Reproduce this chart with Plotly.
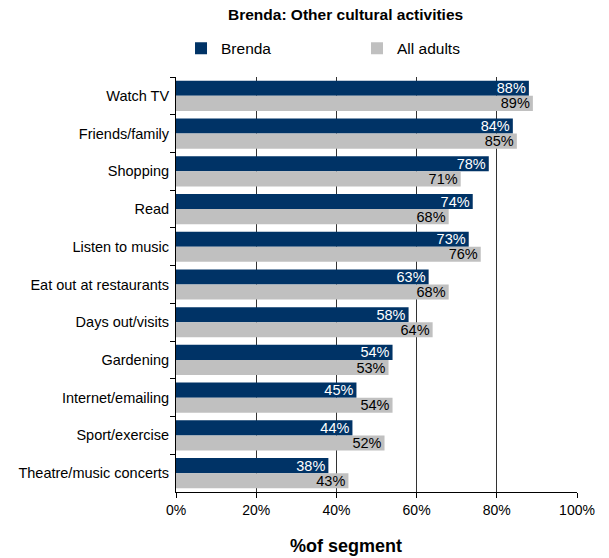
import plotly.graph_objects as go

# Activities and share of each segment taking part (%)
activities = [
    "Watch TV", "Friends/family", "Shopping", "Read", "Listen to music",
    "Eat out at restaurants", "Days out/visits", "Gardening",
    "Internet/emailing", "Sport/exercise", "Theatre/music concerts",
]
brenda = [88, 84, 78, 74, 73, 63, 58, 54, 45, 44, 38]
all_adults = [89, 85, 71, 68, 76, 68, 64, 53, 54, 52, 43]
x_ticks = [0, 20, 40, 60, 80, 100]

NAVY = "#003366"
GREY = "#C0C0C0"
FONT = "Liberation Sans, Arial, sans-serif"

fig = go.Figure()
fig.add_trace(go.Bar(
    name="Brenda", y=activities, x=brenda, orientation="h",
    marker=dict(color=NAVY, line=dict(width=0)),
    text=[f"{v}%" for v in brenda], textposition="inside",
    insidetextanchor="end", constraintext="none",
    insidetextfont=dict(color="white", size=14.5, family=FONT),
))
fig.add_trace(go.Bar(
    name="All adults", y=activities, x=all_adults, orientation="h",
    marker=dict(color=GREY, line=dict(width=0)),
    text=[f"{v}%" for v in all_adults], textposition="inside",
    insidetextanchor="end", constraintext="none",
    insidetextfont=dict(color="black", size=14.5, family=FONT),
))

fig.update_layout(
    width=609, height=558,
    margin=dict(l=176, r=32, t=77, b=66),
    paper_bgcolor="white", plot_bgcolor="white",
    font=dict(family=FONT, size=14.5, color="black"),
    barmode="group", bargap=0.2, bargroupgap=0,
    showlegend=True,
    legend=dict(
        orientation="h", x=0.0125, y=1.068, xanchor="left", yanchor="middle",
        font=dict(size=15.5, family=FONT), entrywidth=131, entrywidthmode="pixels",
        itemwidth=30, bgcolor="rgba(0,0,0,0)",
    ),
    xaxis=dict(
        range=[0, 100], tickvals=x_ticks, ticktext=[f"{t}%" for t in x_ticks],
        showgrid=True, gridcolor="#333333", gridwidth=1,
        showline=True, linecolor="black", linewidth=1,
        ticks="outside", ticklen=5, tickcolor="black",
        tickfont=dict(size=14, family=FONT), zeroline=False,
    ),
    yaxis=dict(
        autorange="reversed", showline=True, linecolor="black", linewidth=1,
        ticks="outside", tickson="boundaries", ticklen=5, tickcolor="black",
        ticklabelstandoff=3,
        tickfont=dict(size=14.5, family=FONT), showgrid=False,
    ),
    annotations=[
        dict(text="<b>Brenda: Other cultural activities</b>", xref="paper", yref="paper",
             x=0.423, y=1.15, xanchor="center", yanchor="middle", showarrow=False,
             font=dict(size=15.5, family=FONT)),
        dict(text="<b>%of segment</b>", xref="paper", yref="paper",
             x=0.423, y=-0.13, xanchor="center", yanchor="middle", showarrow=False,
             font=dict(size=18, family=FONT)),
    ],
)

fig.write_html("out.html")
